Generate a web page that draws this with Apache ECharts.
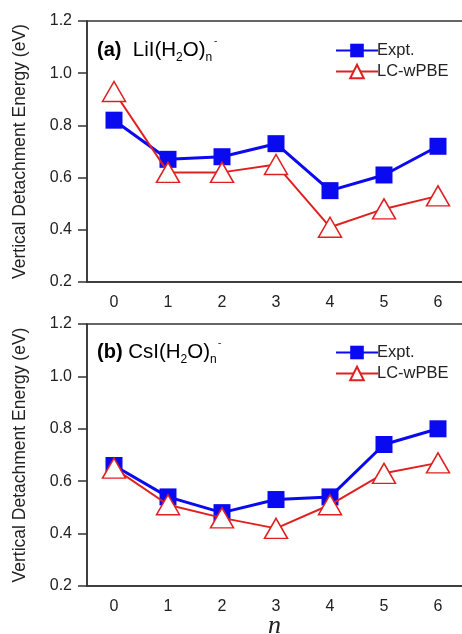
<!DOCTYPE html>
<html>
<head>
<meta charset="utf-8">
<script src="https://cdn.jsdelivr.net/npm/echarts@6/dist/echarts.min.js"></script>
<style>
html, body { margin: 0; padding: 0; background: #fff; }
#chart { width: 462px; height: 634px; }
</style>
</head>
<body>
<div id="chart"></div>
<script>
// n values (x axis)
const nLabels = ['0', '1', '2', '3', '4', '5', '6']

// (a) LiI(H2O)n-
const liExpt = [0.82, 0.67, 0.68, 0.73, 0.55, 0.61, 0.72]
const liCalc = [0.93, 0.62, 0.62, 0.65, 0.41, 0.48, 0.53]

// (b) CsI(H2O)n-
const csExpt = [0.66, 0.54, 0.48, 0.53, 0.54, 0.74, 0.80]
const csCalc = [0.65, 0.51, 0.46, 0.42, 0.51, 0.63, 0.67]

const yTicks = [0.2, 0.4, 0.6, 0.8, 1.0, 1.2]

const font = 'Liberation Sans, Arial, sans-serif'
const axisColor = '#333'

const myChart = echarts.init(document.getElementById('chart'))

function xAxisFor(idx) {
    return {
        type: 'category',
        gridIndex: idx,
        data: nLabels,
        boundaryGap: true,
        axisLine: { lineStyle: { color: axisColor, width: 1.5 } },
        axisTick: { alignWithLabel: true, length: 6, lineStyle: { color: axisColor, width: 1.5 } },
        axisLabel: { color: '#222', fontSize: 16, fontFamily: font, margin: 13 }
    }
}

function yAxisFor(idx) {
    return {
        type: 'value',
        gridIndex: idx,
        min: yTicks[0],
        max: yTicks[yTicks.length - 1],
        interval: 0.2,
        name: 'Vertical Detachment Energy (eV)',
        nameLocation: 'middle',
        nameRotate: 90,
        nameGap: 58,
        nameTextStyle: { color: '#222', fontSize: 17.5, fontFamily: font },
        splitLine: { show: false },
        axisLine: { show: true, lineStyle: { color: axisColor, width: 1.5 } },
        axisTick: { show: true, length: 9, lineStyle: { color: axisColor, width: 1.5 } },
        axisLabel: {
            color: '#222', fontSize: 16, fontFamily: font, margin: 15,
            formatter: v => v.toFixed(1)
        }
    }
}

function exptSeries(idx, data) {
    return {
        name: 'Expt.',
        type: 'line',
        xAxisIndex: idx,
        yAxisIndex: idx,
        data: data,
        symbol: 'rect',
        symbolSize: 17,
        itemStyle: { color: '#0a0af0' },
        lineStyle: { color: '#0a0af0', width: 3 },
        z: 2
    }
}

function calcSeries(idx, data) {
    return {
        name: 'LC-wPBE',
        type: 'line',
        xAxisIndex: idx,
        yAxisIndex: idx,
        data: data,
        symbol: 'triangle',
        symbolSize: [23, 20],
        itemStyle: { color: '#fff', borderColor: '#e02020', borderWidth: 1.5 },
        lineStyle: { color: '#e02020', width: 2 },
        z: 3
    }
}

function legendFor(top) {
    return {
        orient: 'vertical',
        left: 330,
        top: top,
        itemWidth: 42,
        itemHeight: 17,
        itemGap: 4,
        textStyle: { color: '#222', fontSize: 16.5, fontFamily: font, padding: [0, 0, 0, -6] },
        data: ['Expt.', 'LC-wPBE']
    }
}

const titleRich = {
    b: { fontSize: 20, fontWeight: 'bold', fontFamily: font, color: '#222' },
    t: { fontSize: 20.5, fontFamily: font, color: '#222' },
    s: { fontSize: 12, fontFamily: font, color: '#222', padding: [15, 0, 0, 0] }
}

function panelTitle(x, y, label, formula) {
    return {
        type: 'text',
        left: x,
        top: y,
        style: {
            text: '{b|' + label + '}{t|' + formula + '(H}{s|2}{t|O)}{s|n}',
            rich: titleRich
        }
    }
}

function minusSign(x, y) {
    return {
        type: 'text',
        left: x,
        top: y,
        style: { text: '-', fontSize: 10, fontFamily: font, fill: '#222' }
    }
}

const option = {
    animation: false,
    backgroundColor: '#fff',
    grid: [
        { left: 87, top: 21, width: 378, height: 261, outerBoundsMode: 'none', show: true, borderColor: axisColor, borderWidth: 1.5 },
        { left: 87, top: 324, width: 378, height: 262, outerBoundsMode: 'none', show: true, borderColor: axisColor, borderWidth: 1.5 }
    ],
    xAxis: [xAxisFor(0), xAxisFor(1)],
    yAxis: [yAxisFor(0), yAxisFor(1)],
    legend: [legendFor(37), legendFor(339)],
    series: [
        exptSeries(0, liExpt),
        calcSeries(0, liCalc),
        exptSeries(1, csExpt),
        calcSeries(1, csCalc)
    ],
    graphic: [
        panelTitle(97, 40, '(a)', '  LiI'),
        minusSign(214, 36),
        panelTitle(97, 342, '(b)', ' CsI'),
        minusSign(218, 338),
        {
            type: 'text',
            left: 268,
            top: 613,
            style: { text: 'n', fontSize: 26, fontStyle: 'italic', fontFamily: 'Liberation Serif, Times New Roman, serif', fill: '#222' }
        }
    ]
}

myChart.setOption(option)
</script>
</body>
</html>
